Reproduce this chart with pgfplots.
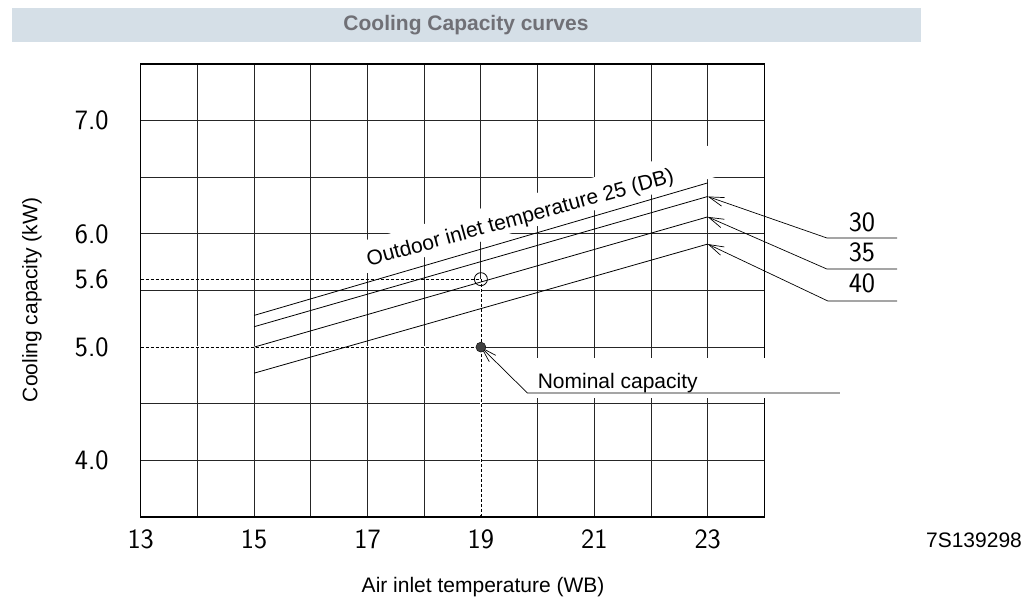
\documentclass[border=0pt]{standalone}
\usepackage{fontspec}
\setmainfont{Liberation Sans}
\usepackage{pgfplots}
\pgfplotsset{compat=1.18}
\usetikzlibrary{arrows.meta}

\definecolor{barbg}{RGB}{213,223,231}
\definecolor{bartext}{RGB}{112,112,118}
\newcommand\cad{\sffamily\fontsize{28}{30}\selectfont\addfontfeatures{FakeStretch=1.12}}
\newcommand\lbl{\fontsize{21}{25}\selectfont}

\begin{document}
\begin{tikzpicture}[barb/.style={{Straight Barb[length=15pt,width=9pt]}-, line width=0.7pt}]
\useasboundingbox (0,0) rectangle (1025pt,601pt);

% title band
\fill[barbg] (12pt,559pt) rectangle (921pt,593pt);
\node[font=\lbl\bfseries, text=bartext] at (466pt,576pt) {Cooling Capacity curves};
\node[font=\lbl] at (974pt,61pt) {7S139298};

\begin{axis}[
  at={(140.7pt,84pt)}, anchor=south west,
  scale only axis, width=623.7pt, height=453pt,
  xmin=13, xmax=24, ymin=3.5, ymax=7.5,
  clip=false,
  /pgf/number format/assume math mode=true,
  xtick={13,15,...,23},
  minor xtick={14,16,...,24},
  ytick={4,5,6,7},
  minor ytick={3.5,4.5,5.5,6.5,7.5},
  yticklabel={\pgfmathprintnumber[fixed,fixed zerofill,precision=1]{\tick}},
  extra y ticks={5.6},
  extra y tick style={grid=none, yticklabel={\pgfmathprintnumber[fixed,fixed zerofill,precision=1]{\tick}}},
  major tick length=0pt, minor tick length=0pt,
  grid=both,
  major grid style={line width=0.9pt, black!85},
  minor grid style={line width=0.9pt, black!85},
  axis line style={line width=1.3pt, black},
  xticklabel style={font=\cad, anchor=north, inner sep=0pt, yshift=-12pt},
  yticklabel style={font=\cad, anchor=east, inner sep=0pt, xshift=-32pt},
  xlabel={Air inlet temperature (WB)},
  ylabel={Cooling capacity (kW)},
  xlabel style={font=\lbl, at={(axis description cs:0.549,0)}, anchor=center, yshift=-70pt},
  ylabel style={font=\lbl, at={(axis description cs:-0.1743,0.479)}, anchor=center},
]

% label boxes that break the grid
\node[fill=white, inner xsep=6pt, inner ysep=4pt, text height=22pt, text depth=2pt,
      anchor=base west, rotate=15.4, font=\lbl]
  at (axis cs:16.92,5.70) {Outdoor inlet temperature 25 (DB)\hspace*{36pt}};
\fill[white] (axis cs:19.82,4.551) rectangle (axis cs:25.33,4.904);
\node[font=\lbl, anchor=base west, inner sep=0pt] at (axis cs:20.0,4.639) {Nominal capacity};

% reference lines
\draw[white, line width=1.4pt] (axis cs:13,5) -- (axis cs:19,5);
\draw[white, line width=1.4pt] (axis cs:19,5.6) -- (axis cs:19,3.52);
\draw[black, line width=0.8pt, dash pattern=on 3pt off 2pt] (axis cs:13,5.6) -- (axis cs:19,5.6);
\draw[black, line width=0.8pt, dash pattern=on 3pt off 2pt] (axis cs:13,5) -- (axis cs:19,5);
\draw[black, line width=0.8pt, dash pattern=on 3pt off 2pt] (axis cs:19,5.6) -- (axis cs:19,3.5);

% capacity curves, outdoor 25/30/35/40 (DB)
\addplot[black, line width=0.8pt] coordinates {(15,5.28) (23,6.45)};
\addplot[black, line width=0.8pt] coordinates {(15,5.18) (23,6.33)};
\addplot[black, line width=0.8pt] coordinates {(15,5.00) (23,6.15)};
\addplot[black, line width=0.8pt] coordinates {(15,4.77) (23,5.91)};

\addplot[only marks, mark=o, mark size=6.5pt, mark options={line width=0.8pt, black}] coordinates {(19,5.6)};
\addplot[only marks, mark=*, mark size=5pt, mark options={fill=black!75, draw=black}] coordinates {(19,5.0)};

% leaders
\draw[barb] (axis cs:23,6.33) -- (axis cs:25.10,5.964) -- (axis cs:26.34,5.964);
\draw[barb] (axis cs:23,6.15) -- (axis cs:25.10,5.690) -- (axis cs:26.34,5.690);
\draw[barb] (axis cs:23,5.91) -- (axis cs:25.12,5.407) -- (axis cs:26.34,5.407);
\node[font=\cad] at (axis cs:25.72,6.105) {30};
\node[font=\cad] at (axis cs:25.72,5.840) {35};
\node[font=\cad] at (axis cs:25.72,5.566) {40};
\draw[barb] (axis cs:19,5) -- (axis cs:19.82,4.595) -- (axis cs:25.33,4.595);
\end{axis}
\end{tikzpicture}
\end{document}
